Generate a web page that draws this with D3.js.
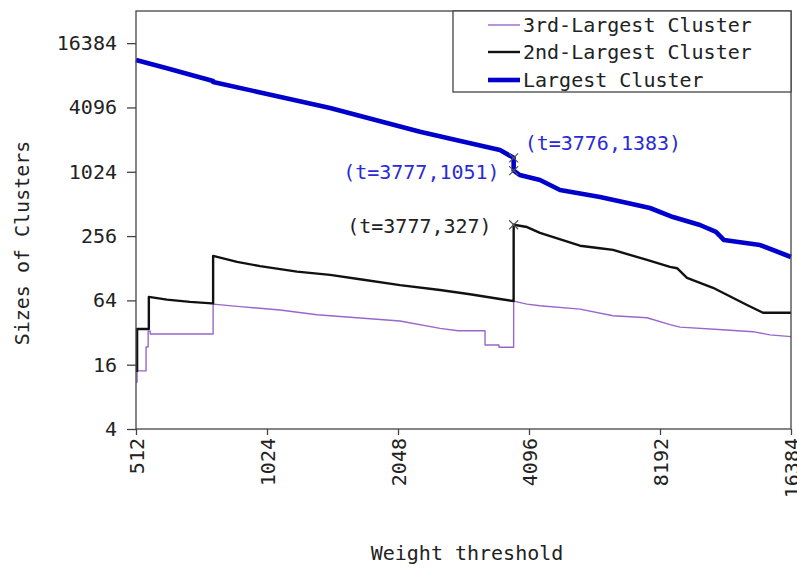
<!DOCTYPE html>
<html>
<head>
<meta charset="utf-8">
<script src="https://cdn.jsdelivr.net/npm/d3@7/dist/d3.min.js"></script>
<style>
  html, body { margin: 0; padding: 0; background: #fff; }
  svg { display: block; }
  text { font-family: "DejaVu Sans Mono", "Liberation Mono", monospace; fill: #222; }
</style>
</head>
<body>
<svg id="chart" width="797" height="568"></svg>
<script>
// Weight thresholds (t) and cluster sizes; repeated t values mark jumps.
const largestT = [512, 600, 770, 770, 1000, 1430, 1800, 2301, 2800, 3512, 3776, 3777, 3900, 4341, 4827, 5964, 6900, 7768, 8775, 10122, 11017, 11494, 13906, 16384];
const largestV = [11400, 9600, 7250, 7080, 5600, 4050, 3156, 2430, 2024, 1638, 1383, 1051, 955, 858, 692, 595, 523, 469, 386, 325, 280, 235, 211, 163];

const secondT = [512, 515, 515, 548, 548, 603, 681, 765, 770, 770, 874, 987, 1200, 1430, 1675, 2070, 2558, 2998, 3512, 3776, 3777, 4053, 4341, 5364, 5964, 6389, 7648, 8637, 8965, 9450, 10844, 12983, 14128, 16384];
const secondV = [14, 14, 34.5, 34.5, 69, 65, 62, 60, 60, 167, 147, 134, 119, 111, 101, 89, 80, 73, 66, 63, 327, 311, 274, 208, 197, 190, 153, 132, 128, 104, 84, 58, 49, 49];

const thirdT = [512, 515, 515, 540, 540, 546, 546, 552, 552, 770, 770, 888, 1097, 1334, 2070, 2558, 2813, 3246, 3246, 3494, 3494, 3776, 3777, 4053, 4341, 5364, 6389, 7648, 8637, 9107, 11400, 13400, 14662, 16384];
const thirdV = [11, 11, 14, 14, 23.4, 23.4, 33, 33, 31, 31, 59, 56, 52, 47, 41, 35, 33.3, 33.3, 24.5, 24.5, 23.3, 23.3, 63, 59, 57, 53, 46, 44, 38, 36, 34, 32.6, 30.4, 29.3];

const xTicks = [512, 1024, 2048, 4096, 8192, 16384];
const yTicks = [4, 16, 64, 256, 1024, 4096, 16384];

const seriesNames = ["3rd-Largest Cluster", "2nd-Largest Cluster", "Largest Cluster"];

// Annotated points: [t, size, label]
const noteT = [3776, 3777, 3777];
const noteV = [1383, 1051, 327];
const noteLabels = ["(t=3776,1383)", "(t=3777,1051)", "(t=3777,327)"];

const svg = d3.select("#chart");
const plotL = 136, plotR = 791, plotT = 11, plotB = 429;

const x = d3.scaleLog().base(2).domain([512, 16384]).range([plotL, plotR]);
const y = d3.scaleLog().base(2).domain([4, 32768]).range([plotB, plotT]);

const zip = (ts, vs) => ts.map((t, i) => [t, vs[i]]);
const line = d3.line().x(d => x(d[0])).y(d => y(d[1]));

// Axes
const xAxis = d3.axisBottom(x).tickValues(xTicks).tickFormat(d3.format("d")).tickSize(6).tickSizeOuter(0);
const yAxis = d3.axisLeft(y).tickValues(yTicks).tickFormat(d3.format("d")).tickSize(9).tickSizeOuter(0);

const gx = svg.append("g").attr("transform", `translate(0,${plotB})`).call(xAxis);
gx.selectAll("text")
  .attr("transform", "rotate(-90)")
  .attr("text-anchor", "end")
  .attr("x", -9)
  .attr("y", 0)
  .attr("dy", "0.35em");

const gy = svg.append("g").attr("transform", `translate(${plotL},0)`).call(yAxis);
gy.selectAll("text").attr("x", -19);

[gx, gy].forEach(g => {
  g.attr("font-size", null).attr("font-family", null);
  g.select(".domain").remove();
  g.selectAll("line").attr("stroke", "#444").attr("stroke-width", 1.3);
  g.selectAll("text").attr("fill", "#222").style("font-size", "20px");
});

// Series lines
const series = [
  { data: zip(thirdT, thirdV), color: "#9966cc", width: 1.4 },
  { data: zip(secondT, secondV), color: "#111111", width: 2.4 },
  { data: zip(largestT, largestV), color: "#0000cc", width: 4.6 }
];
series.forEach(s => {
  svg.append("path")
    .datum(s.data)
    .attr("d", line)
    .attr("fill", "none")
    .attr("stroke", s.color)
    .attr("stroke-width", s.width)
    .attr("stroke-linejoin", "round");
});

// Frame
svg.append("rect")
  .attr("x", plotL).attr("y", plotT)
  .attr("width", plotR - plotL).attr("height", plotB - plotT)
  .attr("fill", "none").attr("stroke", "#444").attr("stroke-width", 1.3);

// Point markers
noteT.forEach((t, i) => {
  const px = x(t), py = y(noteV[i]), r = 4.5;
  svg.append("path")
    .attr("d", `M${px - r},${py - r}L${px + r},${py + r}M${px - r},${py + r}L${px + r},${py - r}`)
    .attr("stroke", "#555").attr("stroke-width", 1.2).attr("fill", "none");
});

// Point labels
const noteStyle = [
  { dx: 11, dy: -15, anchor: "start", color: "#2b2bd6" },
  { dx: -14, dy: 1, anchor: "end", color: "#2b2bd6" },
  { dx: -22, dy: 1, anchor: "end", color: "#222" }
];
noteT.forEach((t, i) => {
  svg.append("text")
    .attr("x", x(t) + noteStyle[i].dx)
    .attr("y", y(noteV[i]) + noteStyle[i].dy)
    .attr("dy", "0.35em")
    .attr("text-anchor", noteStyle[i].anchor)
    .style("font-size", "20px")
    .style("fill", noteStyle[i].color)
    .text(noteLabels[i]);
});

// Legend
const lg = svg.append("g");
lg.append("rect")
  .attr("x", 453).attr("y", plotT)
  .attr("width", plotR - 453).attr("height", 92 - plotT)
  .attr("fill", "#fff").attr("stroke", "#444").attr("stroke-width", 1.3);
const rowsY = [25, 52, 80];
seriesNames.forEach((name, i) => {
  const s = series[i];
  lg.append("line")
    .attr("x1", 488).attr("x2", 520)
    .attr("y1", rowsY[i]).attr("y2", rowsY[i])
    .attr("stroke", s.color).attr("stroke-width", s.width);
  lg.append("text")
    .attr("x", 523).attr("y", rowsY[i]).attr("dy", "0.35em")
    .style("font-size", "20px")
    .text(name);
});

// Axis titles
svg.append("text")
  .attr("x", 467).attr("y", 553).attr("dy", "0.35em")
  .attr("text-anchor", "middle")
  .style("font-size", "20px")
  .text("Weight threshold");
svg.append("text")
  .attr("transform", "translate(22,243) rotate(-90)")
  .attr("dy", "0.35em")
  .attr("text-anchor", "middle")
  .style("font-size", "20px")
  .text("Sizes of Clusters");
</script>
</body>
</html>
